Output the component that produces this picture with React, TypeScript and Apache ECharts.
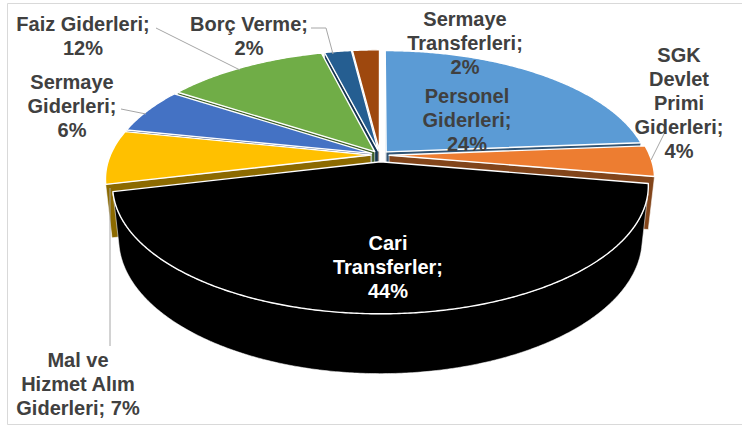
import React, { useEffect, useRef } from "react";
import * as echarts from "echarts";

const categories = [
  "Personel Giderleri",
  "SGK Devlet Primi Giderleri",
  "Cari Transferler",
  "Mal ve Hizmet Alım Giderleri",
  "Sermaye Giderleri",
  "Faiz Giderleri",
  "Borç Verme",
  "Sermaye Transferleri",
];
const values = [24, 4, 44, 7, 6, 12, 2, 2];

// styles / layout (not data)
const colors = ["#5B9BD5", "#ED7D31", "#000000", "#FFC000", "#4472C4", "#70AD47", "#255E91", "#9E480E"];
const labelWordsPerLine = [[1, 1, 1], [1, 1, 1, 1, 1], [1, 1, 1], [2, 2, 2], [1, 1, 1], [2, 1], [2, 1], [1, 1, 1]];
const labelCenters = [[467, 120], [679, 103], [388, 267], [78, 384], [72, 106], [83, 36], [249, 36], [465, 43]];
const labelColors = ["#404040", "#404040", "#ffffff", "#404040", "#404040", "#404040", "#404040", "#404040"];
const leaderLines: (number[][] | null)[] = [
  null,
  [[665, 132], [651, 160]],
  null,
  [[110, 188], [110, 346]],
  [[121, 109], [146, 114]],
  [[156, 28], [240, 70]],
  [[311, 28], [326, 28], [333, 54]],
  null,
];

const CX = 380;
const CY = 155;
const K = 1245;
const D = 4.78;
const S = 0.465;
const C = Math.sqrt(1 - S * S);
const H = 0.23;
const EXPLODE = 0.035;
const EXPLODE_MAIN = 0.055;

function proj(X: number, Y: number, Z: number): number[] {
  const depth = D - Y * S - Z * C;
  const up = Y * C - Z * S;
  return [CX + (K * X) / depth, CY - (K * up) / depth];
}

function darken(hex: string, f: number): string {
  const n = parseInt(hex.slice(1), 16);
  const r = Math.round(((n >> 16) & 255) * f);
  const g = Math.round(((n >> 8) & 255) * f);
  const b = Math.round((n & 255) * f);
  return `rgb(${r},${g},${b})`;
}

export default function App() {
  const ref = useRef<HTMLDivElement>(null);
  useEffect(() => {
    document.body.style.margin = "0";
    if (!ref.current) return;
    const chart = echarts.init(ref.current, null, { renderer: "svg" });

    const total = values.reduce((a, b) => a + b, 0);
    const starts: number[] = [];
    let acc = 0;
    values.forEach((v) => {
      starts.push((acc / total) * Math.PI * 2);
      acc += v;
    });
    const maxIdx = values.indexOf(Math.max(...values));

    const renderItem = (params: any, api: any) => {
      const i = params.dataIndex;
      const v = api.value(0);
      const t1 = starts[i];
      const t2 = t1 + (v / total) * Math.PI * 2;
      const m = (t1 + t2) / 2;
      const e = i === maxIdx ? EXPLODE_MAIN : EXPLODE;
      const ox = e * Math.sin(m);
      const oz = -e * Math.cos(m);
      const color = colors[i];
      const side = i === maxIdx ? "#000000" : darken(color, 0.55);
      const base = Math.round((1 - Math.cos(m)) * 50) * 3;
      const pt = (th: number, r: number, Y: number) => proj(ox + r * Math.sin(th), Y, oz - r * Math.cos(th));
      const n = Math.max(4, Math.ceil((t2 - t1) / (Math.PI / 360)));
      const children: any[] = [];

      // radial faces
      const camX = 0, camZ = D * C;
      const faces = [
        { th: t1, nx: -Math.cos(t1), nz: -Math.sin(t1) },
        { th: t2, nx: Math.cos(t2), nz: Math.sin(t2) },
      ];
      faces.forEach((f) => {
        const dot = f.nx * (camX - ox) + f.nz * (camZ - oz);
        if (dot > 0) {
          children.push({
            type: "polygon",
            z2: base,
            shape: { points: [pt(f.th, 0, 0), pt(f.th, 1, 0), pt(f.th, 1, -H), pt(f.th, 0, -H)] },
            style: { fill: side, stroke: "rgba(255,255,255,0.7)", lineWidth: 0.8 },
          });
        }
      });

      // outer wall
      const topPts: number[][] = [];
      const botPts: number[][] = [];
      for (let k = 0; k <= n; k++) {
        const th = t1 + ((t2 - t1) * k) / n;
        const px = ox + Math.sin(th);
        const pz = oz - Math.cos(th);
        const dot = Math.sin(th) * (camX - px) - Math.cos(th) * (camZ - pz);
        if (dot > 0) {
          topPts.push(pt(th, 1, 0));
          botPts.push(pt(th, 1, -H));
        }
      }
      if (topPts.length > 1) {
        children.push({
          type: "polygon",
          z2: base + 1,
          shape: { points: topPts.concat(botPts.reverse()) },
          style: { fill: side, stroke: "rgba(255,255,255,0.7)", lineWidth: 0.8 },
        });
      }

      // top face
      const face: number[][] = [pt(0, 0, 0)];
      for (let k = 0; k <= n; k++) face.push(pt(t1 + ((t2 - t1) * k) / n, 1, 0));
      children.push({
        type: "polygon",
        z2: base + 2,
        shape: { points: face },
        style: { fill: color, stroke: "#ffffff", lineWidth: 1.4, lineJoin: "round" },
      });
      return { type: "group", children };
    };

    const graphic: any[] = [
      {
        type: "rect",
        shape: { x: 7.5, y: 3.5, width: 740, height: 421 },
        style: { fill: "none", stroke: "#d9d9d9", lineWidth: 1 },
        z: 1,
      },
    ];
    categories.forEach((name, i) => {
      const words = `${name}; ${values[i]}%`.split(" ");
      const lines: string[] = [];
      let w = 0;
      labelWordsPerLine[i].forEach((cnt) => {
        lines.push(words.slice(w, w + cnt).join(" "));
        w += cnt;
      });
      const ll = leaderLines[i];
      if (ll) {
        graphic.push({
          type: "polyline",
          shape: { points: ll },
          style: { stroke: "#a6a6a6", lineWidth: 1, fill: "none" },
          z: 5,
        });
      }
      graphic.push({
        type: "text",
        x: labelCenters[i][0],
        y: labelCenters[i][1],
        z: 10,
        style: {
          text: lines.join("\n"),
          fill: labelColors[i],
          fontFamily: '"Liberation Sans", Arial, sans-serif',
          fontWeight: "bold",
          fontSize: 20,
          lineHeight: 24,
          align: "center",
          verticalAlign: "middle",
          textAlign: "center",
          textVerticalAlign: "middle",
        },
      });
    });

    chart.setOption({
      animation: false,
      backgroundColor: "#ffffff",
      series: [
        {
          type: "custom",
          coordinateSystem: "none",
          silent: true,
          data: values.map((v, i) => ({ value: v, name: categories[i] })),
          renderItem,
        },
      ],
      graphic,
    });
    return () => chart.dispose();
  }, []);
  return <div ref={ref} style={{ width: 742, height: 430 }} />;
}
